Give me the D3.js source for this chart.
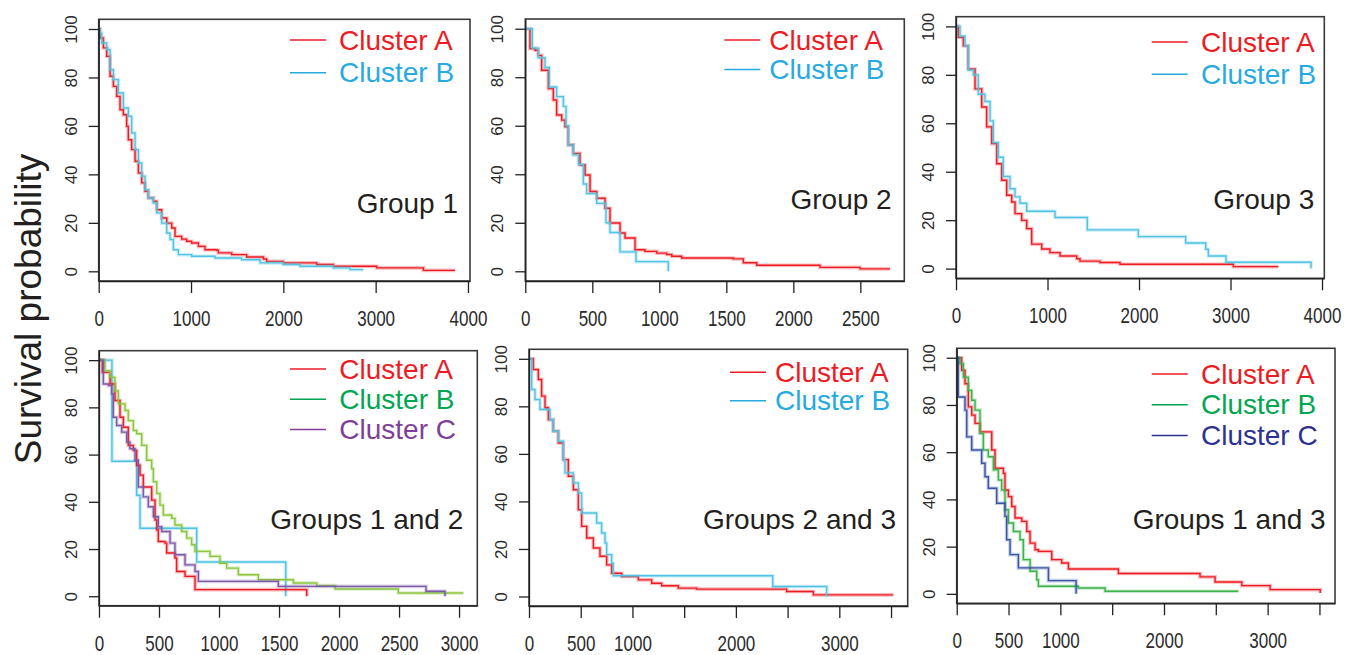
<!DOCTYPE html>
<html>
<head>
<meta charset="utf-8">
<script src="https://cdn.jsdelivr.net/npm/d3@7"></script>
<style>
  body { margin: 0; background: #fff; }
  svg { display: block; font-family: "Liberation Sans", Arial, sans-serif; }
  .tick line { stroke: #222; stroke-width: 1.3; }
  .domain { stroke: #222; stroke-width: 1.3; }
  .tick text { font-size: 17px; fill: #2b2b2b; }
</style>
</head>
<body>
<svg id="chart" width="1355" height="655"></svg>
<script>
// survival curves: [days, survival %]
var g1A = [[0,100],[14,96.3],[51,92.2],[87,88.7],[123,80.5],[159,76.3],[195,72.2],[231,66.7],[267,64.6],[303,59.8],[321,54.3],[357,50.2],[394,45.4],[430,40.6],[466,36.5],[502,33],[538,30.3],[592,28.9],[628,25.4],[682,22],[737,19.9],[791,17.9],[827,14.4],[899,13.3],[953,12.4],[1007,11.7],[1080,10.3],[1152,8.9],[1278,8.7],[1296,7.6],[1441,6.9],[1603,5.9],[1784,5.1],[1820,4.1],[2000,3.5],[2362,2.8],[2542,2.1],[3012,1.4],[3517,0.4],[3860,0.4]];
var g1B = [[0,100],[14,98.3],[33,94.2],[87,91.5],[123,83.2],[159,79.1],[213,73.6],[267,67.4],[321,64],[357,57.1],[394,50.2],[430,44.7],[466,39.2],[502,33.7],[538,30.3],[592,28.2],[628,24.1],[682,19.9],[737,15.8],[773,13.1],[809,8.9],[863,6.9],[1007,6.2],[1260,5.5],[1549,4.8],[1748,3.5],[2000,2.8],[2181,2.1],[2542,1.4],[2723,0.7],[2867,0.7]];

var g2A = [[0,100],[35,91.8],[72,91.1],[97,89],[122,82.9],[172,75.3],[209,70.6],[234,64.4],[272,62.3],[296,59.6],[321,52.1],[358,48.6],[408,43.8],[446,39.7],[483,32.9],[533,30.1],[595,26],[632,19.9],[707,15.8],[744,13.7],[819,8.9],[893,8.2],[981,7.5],[1055,6.9],[1093,6.2],[1167,5.5],[1552,5.1],[1627,3.5],[1727,2.5],[2199,1.6],[2498,1],[2722,1]];
var g2B = [[0,100],[52,92],[97,88],[147,84],[179,76],[234,72],[284,68],[304,60],[321,52],[358,48],[396,44],[433,36],[458,32],[533,28],[602,20],[632,16],[707,8],[826,4],[1067,0]];

var g3A = [[0,100],[25,95.5],[80,92],[134,82.4],[208,74.2],[281,66.7],[335,58.5],[390,51.6],[445,43.3],[499,36.5],[554,30.3],[609,27.5],[645,22.7],[718,19.9],[773,16.5],[827,10.1],[937,8.1],[1027,6.6],[1137,5.2],[1319,4.1],[1355,3.1],[1574,2.5],[1792,1.8],[3030,0.8],[3522,0.8]];
var g3B = [[0,100],[44,96],[98,92],[134,82],[189,80],[243,72],[317,69],[372,61],[408,52],[463,46],[517,38],[590,33],[645,29.6],[699,27],[773,23.7],[1082,21.1],[1435,16],[1992,13.2],[2510,10.6],[2729,8],[2758,5.2],[2951,2.6],[3880,0]];

var g12A = [[0,100],[28,94.8],[92,89.9],[133,82.9],[175,75.8],[203,71.6],[244,63.9],[286,61.8],[314,55.5],[342,51.3],[369,46.3],[439,40.7],[467,32.3],[481,28.1],[494,23.2],[550,22.5],[564,18.3],[633,16.2],[647,10.5],[717,8.4],[800,2.8],[1731,0]];
var g12B = [[0,100],[50,95.5],[92,92.7],[133,87],[161,81.5],[217,78.7],[244,74.4],[286,70.2],[314,68.8],[356,63.9],[397,57.6],[439,54],[453,48.5],[481,43.5],[508,38.6],[536,34.4],[606,33],[633,30.2],[689,27.4],[731,24.6],[772,21.8],[800,19],[925,16.9],[1008,14],[1064,11.9],[1161,9.1],[1328,7],[1619,5.6],[1814,4.5],[1967,3.1],[2494,1.4],[3036,1.4]];
var g12C = [[0,100],[36,89.9],[78,89.2],[106,85.7],[119,75.8],[147,72.3],[189,69.5],[231,65.3],[258,62.5],[300,57.6],[328,46.3],[369,42.1],[411,37.9],[453,33.7],[494,29.5],[522,27.4],[592,22.5],[633,17.6],[717,13.3],[800,10.5],[828,6.3],[1494,4.2],[2725,2.1],[2883,0]];
var g12X = [[0,100],[108,57.2],[314,42.8],[342,28.8],[814,14.5],[1556,0]];

var g23A = [[0,100],[42,95.5],[90,91.3],[122,84.3],[155,79.4],[187,74.4],[235,69.5],[284,64.6],[332,57.6],[380,50.6],[429,44.9],[477,36.5],[509,29.5],[558,24.6],[622,20.4],[686,16.9],[751,13.3],[799,9.8],[896,8.4],[1057,7],[1186,5.6],[1283,4.5],[1444,3.5],[1621,3.1],[2491,2.1],[2749,0.7],[3522,0.7]];
var g23B = [[0,100],[26,87.1],[58,82.9],[106,78.7],[203,74.4],[235,69.5],[284,65.3],[332,57.6],[348,52],[429,47.8],[477,43.5],[509,35.1],[654,30.9],[702,26.7],[735,22.5],[751,17.6],[799,14],[815,8.7],[2356,4.2],[2878,0]];

var g13A = [[0,100],[48,94.7],[80,89],[112,79.2],[145,75.7],[177,72.2],[225,68.6],[338,60.9],[370,53.2],[450,51.1],[466,44],[499,41.2],[531,37],[563,32.1],[628,30.7],[676,26.4],[708,21.5],[756,18.7],[788,18],[917,14.5],[1013,13.1],[1078,10.5],[1560,8.6],[2348,7.2],[2493,5],[2751,3.5],[3024,1.8],[3507,0.4]];
var g13B = [[0,100],[32,97.5],[64,91.8],[112,86.2],[145,82],[177,77.8],[225,67.9],[257,60.9],[305,58.1],[354,52.5],[402,48.2],[434,44],[466,35.6],[499,30],[547,26.4],[611,22.9],[643,14.5],[708,9.6],[772,6],[788,3.2],[1174,2.5],[1432,1.1],[2718,1.1]];
var g13C = [[0,100],[15,83.4],[80,77.8],[97,66.5],[145,60.9],[241,55.3],[273,49.6],[305,44.7],[386,38.4],[466,32.8],[482,22.9],[515,16.6],[595,11],[885,5.6],[1152,0]];

var yTicks = [0, 20, 40, 60, 80, 100];
var xTicks1 = [0, 1000, 2000, 3000, 4000];
var xTicks2 = [0, 500, 1000, 1500, 2000, 2500];
var xTicks4 = [0, 500, 1000, 1500, 2000, 2500, 3000];
var xTicks5 = [0, 500, 1000, 1500, 2000, 2500, 3000, 3500];
var xLabels5 = [0, 500, 1000, 2000, 3000];
var groupNames = ["Group 1", "Group 2", "Group 3", "Groups 1 and 2", "Groups 2 and 3", "Groups 1 and 3"];

// styles
var col = {
	red:    { line: "#ed1c24", key: "#ed1c24" },
	blue:   { line: "#52c3e2", key: "#27aae1" },
	lime:   { line: "#8cc63f", key: "#00a651" },
	green:  { line: "#3cb44b", key: "#00a651" },
	purple: { line: "#7c5aa8", key: "#7f3f98" },
	navy:   { line: "#3b55a5", key: "#2e3192" }
};

// panel layout: box = [left, top, right, bottom]
var panels = [
	{ box: [98.7, 19.3, 470, 281], xMax: 4022, ticks: xTicks1, labels: xTicks1,
	  series: [[g1A, "red", "Cluster A"], [g1B, "blue", "Cluster B"]],
	  leg: [290, 40, 32.7, 49], tag: [458, 213] },
	{ box: [525.3, 19, 904.3, 281], xMax: 2828, ticks: xTicks2, labels: xTicks2,
	  series: [[g2A, "red", "Cluster A"], [g2B, "blue", "Cluster B"]],
	  leg: [724.3, 40, 29.5, 45], tag: [891.7, 208.5] },
	{ box: [956, 16.7, 1324.3, 278.3], xMax: 4025, ticks: xTicks1, labels: xTicks1,
	  series: [[g3A, "red", "Cluster A"], [g3B, "blue", "Cluster B"]],
	  leg: [1151.7, 42, 32.3, 49.3], tag: [1314.3, 208.5] },
	{ box: [99, 350.7, 477.3, 605.7], xMax: 3152, ticks: xTicks4, labels: xTicks4,
	  series: [[g12X, "blue", null], [g12A, "red", "Cluster A"], [g12B, "lime", "Cluster B"], [g12C, "purple", "Cluster C"]],
	  leg: [290, 369, 30.2, 49.3], tag: [463.3, 529] },
	{ box: [529, 349.3, 907.7, 606], xMax: 3661, ticks: xTicks5, labels: xLabels5,
	  series: [[g23A, "red", "Cluster A"], [g23B, "blue", "Cluster B"]],
	  leg: [730, 372.3, 28.4, 45], tag: [896, 529] },
	{ box: [956.7, 348.3, 1335, 603.3], xMax: 3650, ticks: xTicks5, labels: xLabels5,
	  series: [[g13A, "red", "Cluster A"], [g13B, "green", "Cluster B"], [g13C, "navy", "Cluster C"]],
	  leg: [1151.7, 374, 30.8, 49.3], tag: [1325.7, 529] }
];

var svg = d3.select("#chart");

panels.forEach(function(p, i) {
	var b = p.box;
	var x = d3.scaleLinear().domain([0, p.xMax]).range([b[0], b[2]]);
	var y = d3.scaleLinear().domain([-4, 104]).range([b[3], b[1]]);
	var g = svg.append("g");

	var line = d3.line()
		.x(function(d) { return x(d[0]); })
		.y(function(d) { return y(d[1]); })
		.curve(d3.curveStepAfter);

	// draw unlabeled curve first, then the rest
	p.series.forEach(function(s) {
		var c = col[s[1]].line;
		g.append("path").attr("d", line(s[0]))
			.attr("fill", "none").attr("stroke", c)
			.attr("stroke-width", 3.6).attr("stroke-opacity", 0.3);
		g.append("path").attr("d", line(s[0]))
			.attr("fill", "none").attr("stroke", c)
			.attr("stroke-width", 1.4);
	});

	// box
	g.append("rect")
		.attr("x", b[0]).attr("y", b[1])
		.attr("width", b[2] - b[0]).attr("height", b[3] - b[1])
		.attr("fill", "none").attr("stroke", "#3a3a3a").attr("stroke-width", 1.6);

	// axes
	var xa = g.append("g").attr("transform", "translate(0," + b[3] + ")")
		.call(d3.axisBottom(x).tickValues(p.ticks).tickSize(12).tickSizeOuter(0)
			.tickFormat(function(d) { return p.labels.indexOf(d) >= 0 ? d : ""; }));
	xa.selectAll(".tick text")
		.attr("y", 0).attr("dy", 0)
		.attr("transform", "translate(0,45) scale(1,1.25)");

	var ya = g.append("g").attr("transform", "translate(" + b[0] + ",0)")
		.call(d3.axisLeft(y).tickValues(yTicks).tickSize(10).tickSizeOuter(0));
	ya.selectAll(".tick text")
		.attr("x", 0).attr("dy", 0)
		.attr("text-anchor", "middle")
		.attr("transform", "translate(-22,0) rotate(-90)");

	// legend
	var keys = p.series.filter(function(s) { return s[2]; });
	keys.forEach(function(s, k) {
		var ly = p.leg[1] + k * p.leg[2];
		g.append("line")
			.attr("x1", p.leg[0]).attr("x2", p.leg[0] + 36)
			.attr("y1", ly).attr("y2", ly)
			.attr("stroke", col[s[1]].key).attr("stroke-width", 1.5);
		g.append("text")
			.attr("x", p.leg[0] + p.leg[3]).attr("y", ly + 9.5)
			.attr("font-size", 28).attr("fill", col[s[1]].key)
			.text(s[2]);
	});

	g.append("text")
		.attr("x", p.tag[0]).attr("y", p.tag[1])
		.attr("text-anchor", "end")
		.attr("font-size", 28).attr("fill", "#231f20")
		.text(groupNames[i]);
});

svg.append("text")
	.attr("transform", "translate(40.5,309) rotate(-90)")
	.attr("text-anchor", "middle")
	.attr("font-size", 37).attr("fill", "#231f20")
	.text("Survival probability");
</script>
</body>
</html>
